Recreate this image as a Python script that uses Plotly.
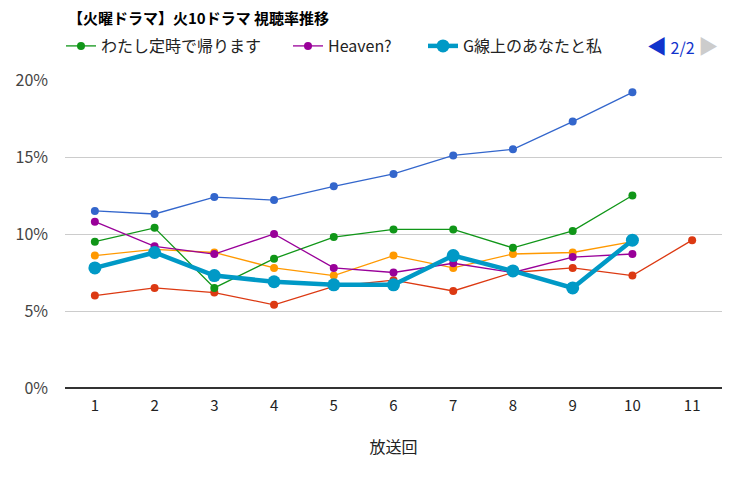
import plotly.graph_objects as go

episodes = [1, 2, 3, 4, 5, 6, 7, 8, 9, 10, 11]
tick_labels = [str(e) for e in episodes]

s_gibo = [11.5, 11.3, 12.4, 12.2, 13.1, 13.9, 15.1, 15.5, 17.3, 19.2]
s_chugaku = [6.0, 6.5, 6.2, 5.4, 6.6, 7.0, 6.3, 7.5, 7.8, 7.3, 9.6]
s_hajikoi = [8.6, 9.0, 8.8, 7.8, 7.3, 8.6, 7.8, 8.7, 8.8, 9.5]
s_teiji = [9.5, 10.4, 6.5, 8.4, 9.8, 10.3, 10.3, 9.1, 10.2, 12.5]
s_heaven = [10.8, 9.2, 8.7, 10.0, 7.8, 7.5, 8.1, 7.5, 8.5, 8.7]
s_gsen = [7.8, 8.8, 7.3, 6.9, 6.7, 6.7, 8.6, 7.6, 6.5, 9.6]

names = ["義母と娘のブルース", "中学聖日記", "初めて恋をした日に読む話",
         "わたし定時で帰ります", "Heaven?", "G線上のあなたと私"]
series = [s_gibo, s_chugaku, s_hajikoi, s_teiji, s_heaven, s_gsen]
colors = ["#3366cc", "#dc3912", "#ff9900", "#109618", "#990099", "#0099c6"]
show_leg = [False, False, False, True, True, True]
legend_ids = ["legend", "legend", "legend", "legend", "legend2", "legend3"]

FONT = "Noto Sans CJK JP"

# page body has an 8px margin: figure is sized/placed to compensate
W, H = 738, 469
ML, MR, MT, MB = 57, 24, 72, 89
PH = H - MT - MB
PW = W - ML - MR


def cx(x):  # reference-page pixel -> container x
    return (x - 8) / W


def cy(y):  # reference-page pixel -> container y
    return 1 - (y - 8) / H


def px_x(x):  # reference-page pixel -> paper x
    return (x - 8 - ML) / PW


def px_y(y):  # reference-page pixel -> paper y
    return (H - MB - (y - 8)) / PH


fig = go.Figure()
for i, (nm, vals) in enumerate(zip(names, series)):
    thick = (i == 5)
    fig.add_trace(go.Scatter(
        x=episodes[:len(vals)], y=vals, name=nm, mode="lines+markers",
        line=dict(color=colors[i], width=4.5 if thick else 1.3),
        marker=dict(color=colors[i], size=13 if thick else 8),
        showlegend=show_leg[i], legend=legend_ids[i],
    ))

leg_common = dict(orientation="h", xref="container", yref="container", xanchor="left",
                  yanchor="middle", font=dict(size=16, color="#222222", family=FONT),
                  itemwidth=30, bgcolor="rgba(0,0,0,0)", borderwidth=0)

fig.update_layout(
    width=W, height=H,
    margin=dict(l=ML, r=MR, t=MT, b=MB, autoexpand=False),
    paper_bgcolor="white", plot_bgcolor="white",
    font=dict(family=FONT, size=15, color="#222222"),
    title=dict(text="<b>【火曜ドラマ】火10ドラマ 視聴率推移</b>",
               x=cx(68), xanchor="left", y=cy(19), yanchor="middle",
               font=dict(size=15, color="#000000", family=FONT)),
    legend=dict(x=cx(61), y=cy(46), **leg_common),
    legend2=dict(x=cx(288), y=cy(46), **leg_common),
    legend3=dict(x=cx(423), y=cy(46), **leg_common),
    xaxis=dict(range=[0.5, 11.5], tickmode="array", tickvals=episodes, ticktext=tick_labels,
               showgrid=False, zeroline=False, showline=False, ticks="",
               automargin=False, ticklabelstandoff=7,
               tickfont=dict(size=15, color="#222222"),
               title=dict(text="放送回", font=dict(size=16, color="#222222"), standoff=27)),
    yaxis=dict(range=[0, 20], tickmode="array", tickvals=[0, 5, 10, 15, 20],
               ticktext=["0%", "5%", "10%", "15%", "20%"],
               showgrid=True, gridcolor="#cccccc", gridwidth=1,
               zeroline=True, zerolinecolor="#333333", zerolinewidth=1.5,
               showline=False, ticks="", ticklabelstandoff=16, automargin=False,
               tickfont=dict(size=16, color="#444444")),
    showlegend=True,
)

fig.add_annotation(xref="paper", yref="paper", x=px_x(645), y=px_y(46),
                   xanchor="left", yanchor="middle", showarrow=False,
                   text=("<span style='color:#1133cc;font-size:20px'>◀</span>"
                         "<span style='color:#1133cc'> 2/2 </span>"
                         "<span style='color:#cccccc;font-size:20px'>▶</span>"),
                   font=dict(size=16, family=FONT))

fig.write_html("out.html")
